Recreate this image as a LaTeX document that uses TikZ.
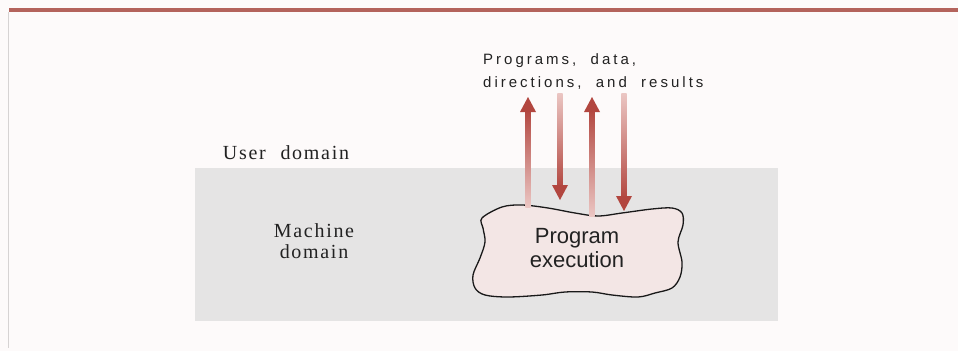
\documentclass[tikz,border=0pt]{standalone}
\usepackage{fontspec}
\setmainfont{Liberation Serif}
\newfontfamily\blobfont{Liberation Sans}
\newfontfamily\spacedsans[LetterSpace=20,WordSpace=2]{Liberation Sans}
\newfontfamily\spacedserif[LetterSpace=8.5,WordSpace=2.2]{Liberation Serif}
\usetikzlibrary{calc}
\definecolor{bg}{HTML}{FDFAFA}
\definecolor{topbar}{HTML}{B4635C}
\definecolor{sidegray}{HTML}{D6D3D3}
\definecolor{machinegray}{HTML}{E5E4E4}
\definecolor{blobfill}{HTML}{F3E6E5}
\definecolor{arrowdark}{HTML}{B2463F}
\definecolor{arrowpale}{HTML}{EBC6C3}
\definecolor{inkgray}{HTML}{222222}
\tikzset{
  seriflabel/.style={inner sep=0pt, text=inkgray, font=\spacedserif\fontsize{20}{21}\selectfont, align=center},
  topnote/.style={inner sep=0pt, text=inkgray, font=\spacedsans\fontsize{15}{22.7}\selectfont, align=left},
  blobtext/.style={inner sep=0pt, text=inkgray, font=\blobfont\fontsize{22}{24}\selectfont, align=center},
  blobline/.style={draw=black!90, line width=1.3pt, fill=blobfill},
  headfill/.style={fill=arrowdark}
}
\begin{document}
\begin{tikzpicture}[x=1pt,y=-1pt]
\useasboundingbox (0,0) rectangle (958,351);
\fill[bg] (0,0) rectangle (958,351);
% frame
\fill[topbar] (9,7.5) rectangle (958,12);
\draw[sidegray, line width=1pt] (8,12) -- (8,348);
% machine domain band
\fill[machinegray] (195,168) rectangle (778,321);
% labels
\node[seriflabel, anchor=base] (user) at (286,159) {User domain};
\node[seriflabel, anchor=center] (machine) at (314,241) {Machine\\domain};
\node[topnote, anchor=north west] (note) at (483,53.5) {Programs, data,\\directions, and results};
% blob
\draw[blobline] plot[smooth cycle, tension=0.55] coordinates {
 (482,218) (502,207) (522,205) (548,208) (575,213) (598,216) (622,213)
 (652,209) (672,208) (682,213) (683,225) (678,242) (682,262) (680,277)
 (672,288) (655,293) (638,297) (612,295) (592,292) (565,292) (542,295)
 (508,297) (485,295) (475,288) (473,275) (480,258) (485,242) (483,228)};
\node[blobtext] (exec) at (577,248.5) {Program\\execution};
% arrow end points
\coordinate (upAtail) at (528,207);
\coordinate (upAtip) at (528,97);
\coordinate (dnBtail) at (560,93);
\coordinate (dnBtip) at (560,200);
\coordinate (upCtail) at (592,216);
\coordinate (upCtip) at (592,97);
\coordinate (dnDtail) at (624,93);
\coordinate (dnDtip) at (624,211);
% up arrows
\foreach \t/\h in {upAtail/upAtip, upCtail/upCtip}{
  \shade[top color=arrowdark, bottom color=arrowpale]
    ($(\h)+(-2.6,12)$) rectangle ($(\t)+(2.6,0)$);
  \fill[headfill] (\h) -- ($(\h)+(-8,15)$) -- ($(\h)+(8,15)$) -- cycle;
}
% down arrows
\foreach \t/\h in {dnBtail/dnBtip, dnDtail/dnDtip}{
  \shade[top color=arrowpale, bottom color=arrowdark]
    ($(\t)+(-2.6,0)$) rectangle ($(\h)+(2.6,-12)$);
  \fill[headfill] (\h) -- ($(\h)+(-8,-15)$) -- ($(\h)+(8,-15)$) -- cycle;
}
\end{tikzpicture}
\end{document}
